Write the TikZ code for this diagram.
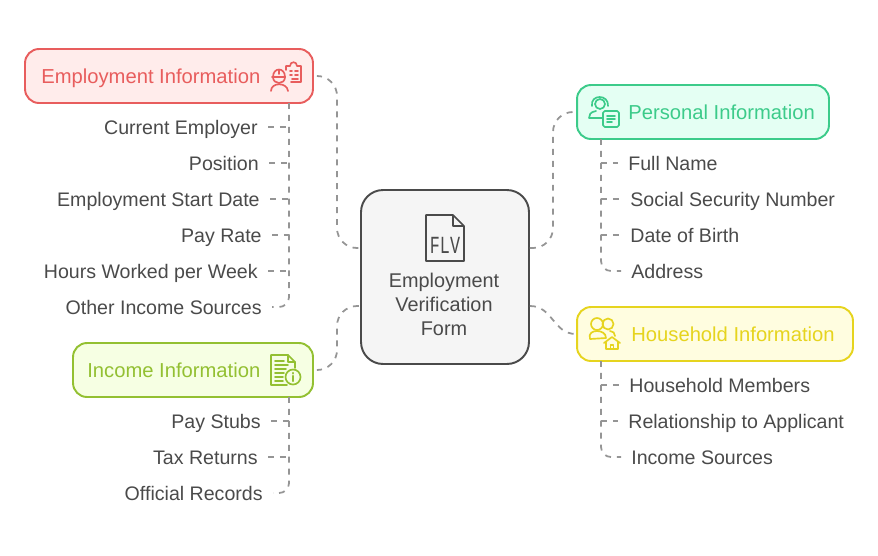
\documentclass[tikz,border=0pt]{standalone}
\usepackage{fontspec}
\setmainfont{Liberation Sans}
\newfontfamily\flvfont{Liberation Mono}
\definecolor{inkgrey}{HTML}{4A4A4A}
\definecolor{dashgrey}{HTML}{959595}
\definecolor{empred}{HTML}{E85D5D}
\definecolor{empfill}{HTML}{FFECEB}
\definecolor{pergreen}{HTML}{3CCB8A}
\definecolor{perfill}{HTML}{E4FFF3}
\definecolor{incgreen}{HTML}{93C032}
\definecolor{incfill}{HTML}{F6FFE3}
\definecolor{hhyellow}{HTML}{E6D41E}
\definecolor{hhfill}{HTML}{FFFDE0}
\tikzset{
  box/.style={draw,line width=1.1pt,rounded corners=0.28cm,inner sep=0pt},
  title/.style={font=\fontsize{11.5}{13}\selectfont,inner sep=0pt,text height=8pt,text depth=0pt},
  leaf/.style={font=\fontsize{11.15}{13}\selectfont,text=inkgrey,inner ysep=0pt,inner xsep=0.2cm,text height=8pt,text depth=0pt},
  link/.style={draw=dashgrey,line width=1pt,dash pattern=on 3.4pt off 3.4pt,rounded corners=0.4cm},
  branch/.style={draw=dashgrey,line width=1pt,dash pattern=on 3.4pt off 3.4pt},
  icon/.style={line width=0.95pt,line cap=round,line join=round}
}
\begin{document}
\begin{tikzpicture}[x=0.02cm,y=-0.02cm]
\useasboundingbox (0,0) rectangle (878,555);
% centre
\node[box,draw=inkgrey,fill=black!4,rounded corners=0.44cm,minimum width=3.36cm,minimum height=3.48cm] (form) at (445,277) {};
\node[inner sep=0pt,text=inkgrey,align=center,font=\fontsize{11.3}{13.66}\selectfont] (formText) at (444,304) {Employment\\Verification\\Form};
\draw[icon,draw=inkgrey] (453,215) -- (426,215) -- (426,261) -- (464,261) -- (464,226) -- (453,215) -- (453,226) -- (464,226);
\node[inner sep=0pt,text=inkgrey,xscale=0.68,font=\flvfont\fontsize{14}{15}\selectfont] (flv) at (445,245) {FLV};
% boxes
\node[box,draw=empred,fill=empfill,minimum width=5.76cm,minimum height=1.08cm] (emp) at (169,76) {};
\node[title,text=empred,anchor=west] (empText) at (41,76) {Employment Information};
\node[box,draw=pergreen,fill=perfill,minimum width=5.04cm,minimum height=1.08cm] (per) at (703,112) {};
\node[title,text=pergreen,anchor=west] (perText) at (628,112) {Personal Information};
\node[box,draw=incgreen,fill=incfill,minimum width=4.8cm,minimum height=1.08cm] (inc) at (193,370) {};
\node[title,text=incgreen,anchor=west] (incText) at (87,370) {Income Information};
\node[box,draw=hhyellow,fill=hhfill,minimum width=5.52cm,minimum height=1.08cm] (hh) at (715,334) {};
\node[title,text=hhyellow,anchor=west] (hhText) at (631,334) {Household Information};
% links to the form
\draw[link,shorten <=0.08cm] (emp.east) -- (337,76) -- (337,248) -- ([shift={(0,-29)}]form.west);
\draw[link,shorten <=0.08cm] (inc.east) -- (337,370) -- (337,306) -- ([shift={(0,29)}]form.west);
\draw[link] ([shift={(0,-29)}]form.east) -- (553,248) -- (553,112) -- (per.west);
\draw[branch] ([shift={(0,29)}]form.east) .. controls (553,306) and (553,334) .. (hh.west);
% employment leaves
\node[leaf,anchor=east] (curEmp) at (268,127) {Current Employer};
\node[leaf,anchor=east] (pos) at (269,163) {Position};
\node[leaf,anchor=east] (startDate) at (270,199) {Employment Start Date};
\node[leaf,anchor=east] (payRate) at (272,235) {Pay Rate};
\node[leaf,anchor=east] (hours) at (268,271) {Hours Worked per Week};
\node[leaf,anchor=east] (other) at (272,307) {Other Income Sources};
\coordinate (empTrunk) at (289,103);
\draw[branch,rounded corners=0.2cm] (empTrunk) -- (other.east -| empTrunk) -- (other.east);
\draw[branch] (curEmp.east) -- (curEmp.east -| empTrunk);
\draw[branch] (pos.east) -- (pos.east -| empTrunk);
\draw[branch] (startDate.east) -- (startDate.east -| empTrunk);
\draw[branch] (payRate.east) -- (payRate.east -| empTrunk);
\draw[branch] (hours.east) -- (hours.east -| empTrunk);
% income leaves
\node[leaf,anchor=east] (stubs) at (271,421) {Pay Stubs};
\node[leaf,anchor=east] (returns) at (268,457) {Tax Returns};
\node[leaf,anchor=east] (records) at (273,493) {Official Records};
\coordinate (incTrunk) at (289,397);
\draw[branch,rounded corners=0.2cm] (incTrunk) -- (records.east -| incTrunk) -- (records.east);
\draw[branch] (stubs.east) -- (stubs.east -| incTrunk);
\draw[branch] (returns.east) -- (returns.east -| incTrunk);
% personal leaves
\node[leaf,anchor=west] (fullName) at (618,163) {Full Name};
\node[leaf,anchor=west] (ssn) at (620,199) {Social Security Number};
\node[leaf,anchor=west] (birth) at (620,235) {Date of Birth};
\node[leaf,anchor=west] (address) at (621,271) {Address};
\coordinate (perTrunk) at (601,139);
\draw[branch,rounded corners=0.2cm] (perTrunk) -- (address.west -| perTrunk) -- (address.west);
\draw[branch] (fullName.west -| perTrunk) -- (fullName.west);
\draw[branch] (ssn.west -| perTrunk) -- (ssn.west);
\draw[branch] (birth.west -| perTrunk) -- (birth.west);
% household leaves
\node[leaf,anchor=west] (members) at (619,385) {Household Members};
\node[leaf,anchor=west] (relation) at (618,421) {Relationship to Applicant};
\node[leaf,anchor=west] (sources) at (621,457) {Income Sources};
\coordinate (hhTrunk) at (601,361);
\draw[branch,rounded corners=0.2cm] (hhTrunk) -- (sources.west -| hhTrunk) -- (sources.west);
\draw[branch] (members.west -| hhTrunk) -- (members.west);
\draw[branch] (relation.west -| hhTrunk) -- (relation.west);
% employment icon
\begin{scope}[icon,draw=empred]
\draw (273,77) .. controls (273,85) and (285,85) .. (285,77);
\draw (272,77) -- (285,77);
\draw (273,77) .. controls (273,67) and (285,67) .. (285,77);
\draw (279,70) -- (279,74);
\draw (271,91) .. controls (271,82) and (287,82) .. (288,91);
\draw (286,70) -- (286,66) -- (290,66) .. controls (290,61) and (297,61) .. (297,66) -- (301,66) -- (301,82) -- (291,82);
\draw (290,71) -- (292,71) (295,71) -- (298,71) (290,75) -- (292,75) (295,75) -- (298,75) (292,79) -- (298,79);
\end{scope}
% personal icon
\begin{scope}[icon,draw=pergreen]
\draw (600,104) circle (5);
\draw (592,106) .. controls (590,94) and (609,94) .. (608,106);
\draw (596,111) .. controls (590,112) and (589,115) .. (589,118) -- (602,118);
\draw[rounded corners=1pt] (603,111) rectangle (619,127);
\draw (607,116) -- (615,116) (607,119) -- (615,119) (607,122) -- (612,122);
\end{scope}
% income icon
\begin{scope}[icon,draw=incgreen]
\draw (287,385) -- (271,385) -- (271,355) -- (288,355) -- (295,362) -- (295,368);
\draw (288,355) -- (288,362) -- (295,362);
\draw (275,361) -- (284,361) (275,365) -- (288,365) (275,369) -- (286,369) (275,373) -- (284,373) (275,377) -- (283,377) (275,381) -- (283,381);
\draw (293,377) circle (7.5);
\draw[line width=1.3pt] (293,376) -- (293,381) (293,373) -- (293,373.4);
\end{scope}
% household icon
\begin{scope}[icon,draw=hhyellow]
\draw (597,324) circle (6);
\draw (608,324) circle (5.5);
\draw (590,339) .. controls (588,333) and (593,331) .. (597,331) .. controls (601,331) and (606,333) .. (606,338) -- (590,339);
\draw (610,331) .. controls (613,331) and (615,333) .. (615,336);
\draw (604,343) -- (612,337) -- (620,343);
\draw (606,342) -- (606,349) -- (618,349) -- (618,342);
\draw (610.5,349) -- (610.5,345) -- (613.5,345) -- (613.5,349);
\end{scope}
\end{tikzpicture}
\end{document}
